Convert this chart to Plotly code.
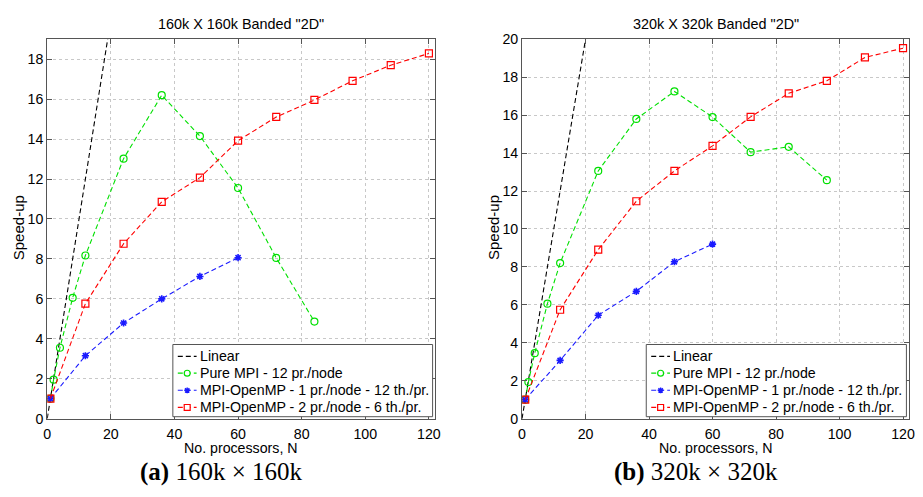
import plotly.graph_objects as go

# ---------------- data ----------------
n_linear = [0, 1, 2, 4, 8, 12, 24]
linear = [0, 1, 2, 4, 8, 12, 24]

n_pure_a = [1, 2, 4, 8, 12, 24, 36, 48, 60, 72, 84]
pure_a = [1.0, 1.95, 3.55, 6.05, 8.17, 13.02, 16.2, 14.15, 11.55, 8.05, 4.86]
n_omp1_a = [1, 12, 24, 36, 48, 60]
omp1_a = [1.0, 3.15, 4.79, 6.0, 7.12, 8.06]
n_omp2_a = [1, 12, 24, 36, 48, 60, 72, 84, 96, 108, 120]
omp2_a = [1.0, 5.76, 8.76, 10.86, 12.07, 13.92, 15.11, 15.96, 16.92, 17.7, 18.29]

n_pure_b = [1, 2, 4, 8, 12, 24, 36, 48, 60, 72, 84, 96]
pure_b = [1.0, 1.93, 3.45, 6.06, 8.2, 13.06, 15.8, 17.25, 15.9, 14.05, 14.33, 12.57]
n_omp1_b = [1, 12, 24, 36, 48, 60]
omp1_b = [1.0, 3.07, 5.45, 6.71, 8.27, 9.2]
n_omp2_b = [1, 12, 24, 36, 48, 60, 72, 84, 96, 108, 120]
omp2_b = [1.0, 5.74, 8.91, 11.46, 13.06, 14.38, 15.91, 17.15, 17.81, 19.04, 19.53]

names = ["Linear", "Pure MPI - 12 pr./node",
         "MPI-OpenMP - 1 pr./node - 12 th./pr.",
         "MPI-OpenMP - 2 pr./node - 6 th./pr."]
titles = ['160k X 160k Banded "2D"', '320k X 320k Banded "2D"']
captions = ["<b>(a)</b> 160k \u00d7 160k", "<b>(b)</b> 320k \u00d7 320k"]
xticks = [0, 20, 40, 60, 80, 100, 120]
yticks_a = [0, 2, 4, 6, 8, 10, 12, 14, 16, 18]
yticks_b = [0, 2, 4, 6, 8, 10, 12, 14, 16, 18, 20]

W, H = 923, 497
FONT = "Liberation Sans"
FS = 14.2
DASH = "5px,3px"
COLORS = ["black", "#00e000", "#1a1aff", "#ff0000"]
SYMBOLS = [None, "circle-open", "asterisk-open", "square-open"]

fig = go.Figure()


def add_set(sets, xa, ya):
    for k, (xs, ys) in enumerate(sets):
        if k == 0:
            fig.add_trace(go.Scatter(x=xs, y=ys, mode="lines", name=names[k],
                                     line=dict(color=COLORS[k], width=1.1, dash=DASH),
                                     xaxis=xa, yaxis=ya, showlegend=False))
        else:
            fig.add_trace(go.Scatter(
                x=xs, y=ys, mode="lines+markers", name=names[k],
                line=dict(color=COLORS[k], width=1.1, dash=DASH),
                marker=dict(symbol=SYMBOLS[k], size=6 if k == 2 else 7, color=COLORS[k],
                            line=dict(width=1.6 if k == 2 else 1.2, color=COLORS[k])),
                xaxis=xa, yaxis=ya, showlegend=False))


add_set([(n_linear, linear), (n_pure_a, pure_a), (n_omp1_a, omp1_a), (n_omp2_a, omp2_a)],
        "x", "y")
add_set([(n_linear, linear), (n_pure_b, pure_b), (n_omp1_b, omp1_b), (n_omp2_b, omp2_b)],
        "x2", "y2")

# plot-area pixel boxes
boxes = [(43.7, 436.0), (523.7, 915.3)]
top_px, bot_px = 32.3, 424.3
ydom = [(H - bot_px) / H, (H - top_px) / H]

axcommon = dict(showline=True, linecolor="#555555", linewidth=1, mirror="ticks",
                ticks="inside", ticklen=5, tickcolor="#555555",
                showgrid=True, gridcolor="#c8c8c8", griddash="dot", gridwidth=1,
                zeroline=False, tickfont=dict(family=FONT, size=FS, color="black"))

fig.update_layout(
    width=W, height=H, margin=dict(l=0, r=0, t=0, b=0),
    paper_bgcolor="white", plot_bgcolor="white",
    xaxis=dict(domain=[boxes[0][0] / W, boxes[0][1] / W], range=[0, 122],
               tickvals=xticks, anchor="y", ticklabelstandoff=2, **axcommon),
    yaxis=dict(domain=ydom, range=[0, 19], tickvals=yticks_a, anchor="x", **axcommon),
    xaxis2=dict(domain=[boxes[1][0] / W, boxes[1][1] / W], range=[0, 122],
                tickvals=xticks, anchor="y2", ticklabelstandoff=2, **axcommon),
    yaxis2=dict(domain=ydom, range=[0, 20], tickvals=yticks_b, anchor="x2", **axcommon),
    showlegend=False,
)


def px(x):
    return x / W


def py(y):
    return 1 - y / H


shapes = []
ann = []

# custom legends (MATLAB-style compact rows)
leg_boxes = [(170.7, 433.3), (649.3, 912.3)]
leg_top, leg_bot = 347.7, 422.3
row_offsets = [12.3, 29.6, 47.3, 65.0]
for (lx0, lx1) in leg_boxes:
    shapes.append(dict(type="rect", xref="paper", yref="paper", layer="above",
                       x0=px(lx0), x1=px(lx1), y0=py(leg_bot), y1=py(leg_top),
                       fillcolor="white", line=dict(color="#555555", width=1)))
    for k in range(4):
        yc = leg_top + row_offsets[k]
        c = COLORS[k]
        shapes.append(dict(type="line", xref="paper", yref="paper", layer="above",
                           x0=px(lx0 + 5), x1=px(lx0 + 24), y0=py(yc), y1=py(yc),
                           line=dict(color=c, width=1.1, dash=DASH)))
        mx = lx0 + 14.5
        r = 3.0
        if k == 1:
            shapes.append(dict(type="circle", xref="paper", yref="paper", layer="above",
                               x0=px(mx - r), x1=px(mx + r), y0=py(yc + r), y1=py(yc - r),
                               fillcolor="white", line=dict(color=c, width=1.2)))
        elif k == 2:
            d = 3.0
            e = 2.2
            path = (f"M {px(mx - d)},{py(yc)} L {px(mx + d)},{py(yc)} "
                    f"M {px(mx)},{py(yc - d)} L {px(mx)},{py(yc + d)} "
                    f"M {px(mx - e)},{py(yc - e)} L {px(mx + e)},{py(yc + e)} "
                    f"M {px(mx - e)},{py(yc + e)} L {px(mx + e)},{py(yc - e)}")
            shapes.append(dict(type="path", xref="paper", yref="paper", layer="above",
                               path=path, line=dict(color=c, width=1.4)))
        elif k == 3:
            shapes.append(dict(type="rect", xref="paper", yref="paper", layer="above",
                               x0=px(mx - r), x1=px(mx + r), y0=py(yc + r), y1=py(yc - r),
                               fillcolor="white", line=dict(color=c, width=1.2)))
        ann.append(dict(text=names[k], x=px(lx0 + 25.5), y=py(yc), xref="paper",
                        yref="paper", showarrow=False, xanchor="left", yanchor="middle",
                        font=dict(family=FONT, size=FS, color="black")))

for i, (x0, x1) in enumerate(boxes):
    cx = (x0 + x1) / 2
    ann.append(dict(text=titles[i], x=px(cx), y=py(17), xref="paper", yref="paper",
                    showarrow=False, font=dict(family=FONT, size=14.4, color="black"),
                    xanchor="center", yanchor="middle"))
    ann.append(dict(text="No. processors, N", x=px(cx), y=py(444), xref="paper",
                    yref="paper", showarrow=False,
                    font=dict(family=FONT, size=FS, color="black"),
                    xanchor="center", yanchor="top"))
    ann.append(dict(text=captions[i], x=px(cx - 20), y=py(479), xref="paper",
                    yref="paper", showarrow=False,
                    font=dict(family="Liberation Serif", size=25, color="black"),
                    xanchor="center", yanchor="middle"))
    ann.append(dict(text="Speed-up", x=px(x0 - 29), y=py(227), xref="paper",
                    yref="paper", showarrow=False, textangle=-90,
                    font=dict(family=FONT, size=15, color="black"),
                    xanchor="center", yanchor="middle"))

fig.update_layout(annotations=ann, shapes=shapes)

fig.write_html("out.html")
